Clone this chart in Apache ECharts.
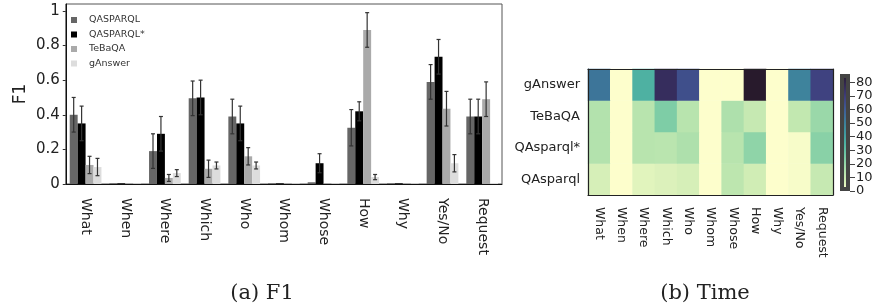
<!DOCTYPE html>
<html>
<head>
<meta charset="utf-8">
<script src="https://cdn.jsdelivr.net/npm/echarts@6/dist/echarts.min.js"></script>
<style>html,body{margin:0;padding:0;background:#fff;}#c{width:878px;height:307px;}</style>
</head>
<body>
<div id="c"></div>
<script>
const categories = ['What','When','Where','Which','Who','Whom','Whose','How','Why','Yes/No','Request'];
const seriesNames = ['QASPARQL','QASPARQL*','TeBaQA','gAnswer'];
const f1QASPARQL     = [0.40, 0.004, 0.19, 0.495, 0.39, 0.004, 0.01, 0.325, 0.004, 0.59, 0.39];
const f1QASPARQLStar = [0.35, 0.004, 0.29, 0.50, 0.35, 0.004, 0.12, 0.42, 0.004, 0.735, 0.39];
const f1TeBaQA       = [0.11, 0.004, 0.035, 0.088, 0.16, 0.004, 0.004, 0.89, 0.004, 0.435, 0.49];
const f1gAnswer      = [0.098, 0.004, 0.063, 0.107, 0.107, 0.004, 0.004, 0.04, 0.004, 0.12, 0.006];
const errQASPARQL     = [0.10, 0, 0.10, 0.10, 0.10, 0, 0, 0.105, 0, 0.10, 0.10];
const errQASPARQLStar = [0.10, 0, 0.10, 0.10, 0.10, 0, 0.055, 0.055, 0, 0.10, 0.10];
const errTeBaQA       = [0.05, 0, 0.02, 0.05, 0.05, 0, 0, 0.10, 0, 0.10, 0.10];
const errgAnswer      = [0.05, 0, 0.02, 0.02, 0.02, 0, 0, 0.015, 0, 0.05, 0];
const f1Ticks = [0, 0.2, 0.4, 0.6, 0.8, 1];

const systems = ['QAsparql','QAsparql*','TeBaQA','gAnswer'];
const timeQAsparql     = [7, 0, 5, 6, 7, 0, 12, 8, 0, 1, 10];
const timeQAsparqlStar = [14, 0, 13, 12.5, 15, 0, 13, 21, 0, 1, 22];
const timeTeBaQA       = [14, 0, 13, 24, 13, 0, 15, 10, 0, 11, 19];
const timegAnswer      = [53, 0, 35, 76, 64, 0, 0, 86, 0, 49, 68];
const timeTicks = [0, 10, 20, 30, 40, 50, 60, 70, 80];

const deep = ['#fdfecc','#cdecb3','#a4dcaa','#74c9a5','#4fb3a2','#3f979f','#3d7a9a','#3f5b96','#3f3f7e','#342a56','#281a2c'];
const barColors = ['#666666','#000000','#aaaaaa','#dddddd'];

const f1Values = [f1QASPARQL, f1QASPARQLStar, f1TeBaQA, f1gAnswer];
const f1Errors = [errQASPARQL, errQASPARQLStar, errTeBaQA, errgAnswer];
const timeRows = [timeQAsparql, timeQAsparqlStar, timeTeBaQA, timegAnswer];
const heatData = [];
timeRows.forEach((row, y) => row.forEach((v, x) => heatData.push([x, y, v])));

const series = [];
f1Values.forEach((vals, si) => {
  series.push({
    name: seriesNames[si], type: 'bar', xAxisIndex: 0, yAxisIndex: 0,
    data: vals, barGap: '0%', barCategoryGap: '20%',
    itemStyle: { color: barColors[si] }
  });
});
f1Values.forEach((vals, si) => {
  series.push({
    type: 'custom', xAxisIndex: 0, yAxisIndex: 0, z: 5, silent: true,
    data: vals.map((v, i) => [i, v - f1Errors[si][i], v + f1Errors[si][i], f1Errors[si][i]]),
    renderItem: function (params, api) {
      if (api.value(3) <= 0) return null;
      const band = api.size([1, 0])[0];
      const bw = band * 0.8 / 4;
      const i = api.value(0);
      const cx = api.coord([i, 0])[0] + (si - 1.5) * bw;
      const y1 = api.coord([i, api.value(1)])[1];
      const y2 = api.coord([i, api.value(2)])[1];
      const st = { stroke: '#333', lineWidth: 1.2 };
      return { type: 'group', children: [
        { type: 'line', shape: { x1: cx, y1: y1, x2: cx, y2: y2 }, style: st },
        { type: 'line', shape: { x1: cx - 2, y1: y1, x2: cx + 2, y2: y1 }, style: st },
        { type: 'line', shape: { x1: cx - 2, y1: y2, x2: cx + 2, y2: y2 }, style: st }
      ]};
    }
  });
});
series.push({
  type: 'heatmap', xAxisIndex: 1, yAxisIndex: 1, data: heatData
});
const heatIndex = series.length - 1;
series.push({
  type: 'bar', xAxisIndex: 2, yAxisIndex: 2, data: [86], barWidth: '100%', silent: true,
  itemStyle: {
    color: { type: 'linear', x: 0, y: 1, x2: 0, y2: 0,
      colorStops: deep.map((c, k) => ({ offset: k / (deep.length - 1), color: c })) },
    borderColor: '#444', borderWidth: 4
  }
});

const txt = '#222';
const option = {
  animation: false,
  textStyle: { fontFamily: 'DejaVu Sans' },
  title: [
    { text: '(a) F1', left: 257, top: 278, textAlign: 'center',
      textStyle: { fontFamily: 'DejaVu Serif', fontWeight: 'normal', fontSize: 21, color: '#222' } },
    { text: '(b) Time', left: 700, top: 278, textAlign: 'center',
      textStyle: { fontFamily: 'DejaVu Serif', fontWeight: 'normal', fontSize: 21, color: '#222' } }
  ],
  legend: {
    data: seriesNames, orient: 'vertical', left: 66, top: 9,
    itemWidth: 6, itemHeight: 6, itemGap: 2.5, icon: 'rect',
    textStyle: { fontSize: 9.5, color: '#333', lineHeight: 12, padding: [0, 0, 0, 7] }
  },
  grid: [
    { left: 61, top: 4, width: 441, height: 180, show: true, borderColor: '#555', borderWidth: 1 },
    { left: 588, top: 69, width: 245, height: 126 },
    { left: 840, top: 74, width: 10, height: 117 }
  ],
  visualMap: {
    show: false, min: 0, max: 86, seriesIndex: heatIndex, inRange: { color: deep }
  },
  xAxis: [
    { gridIndex: 0, type: 'category', data: categories,
      axisLine: { lineStyle: { color: '#111', width: 1 } },
      axisTick: { alignWithLabel: true, length: 4, lineStyle: { color: '#333' } },
      axisLabel: { rotate: -90, fontSize: 14, color: txt, margin: 14 } },
    { gridIndex: 1, type: 'category', data: categories, z: 10,
      axisLine: { lineStyle: { color: '#222', width: 1.2 } },
      axisTick: { alignWithLabel: true, length: 4, lineStyle: { color: '#666' } },
      axisLabel: { rotate: -90, fontSize: 12.5, color: txt, margin: 12 } },
    { gridIndex: 2, type: 'category', data: ['c'], show: false },
    { gridIndex: 1, type: 'category', data: categories, position: 'top', z: 10,
      axisLine: { show: true, lineStyle: { color: '#222', width: 1.2 } },
      axisTick: { show: false }, axisLabel: { show: false } }
  ],
  yAxis: [
    { gridIndex: 0, type: 'value', min: 0, max: 1.04,
      name: 'F1', nameLocation: 'middle', nameGap: 37, nameRotate: 90,
      nameTextStyle: { fontSize: 17, color: txt },
      axisLine: { show: true, lineStyle: { color: '#111' } },
      axisTick: { show: true, length: 3, customValues: f1Ticks, lineStyle: { color: '#333' } },
      axisLabel: { fontSize: 15, color: txt, margin: 6, customValues: f1Ticks },
      splitLine: { show: false } },
    { gridIndex: 1, type: 'category', data: systems, z: 10,
      axisLine: { lineStyle: { color: '#222', width: 1.2 } },
      axisTick: { alignWithLabel: true, length: 4, lineStyle: { color: '#666' } },
      axisLabel: { fontSize: 13, color: txt, margin: 8 } },
    { gridIndex: 2, type: 'value', min: 0, max: 86, position: 'right',
      axisLine: { show: false },
      axisTick: { show: true, length: 5, customValues: timeTicks, lineStyle: { color: '#444' } },
      axisLabel: { fontSize: 13, color: txt, margin: 6, customValues: timeTicks },
      splitLine: { show: false } },
    { gridIndex: 1, type: 'category', data: systems, position: 'right', z: 10,
      axisLine: { show: true, lineStyle: { color: '#222', width: 1.2 } },
      axisTick: { show: false }, axisLabel: { show: false } }
  ],
  series: series
};
const chart = echarts.init(document.getElementById('c'), null, { renderer: 'canvas' });
chart.setOption(option);
</script>
</body>
</html>
